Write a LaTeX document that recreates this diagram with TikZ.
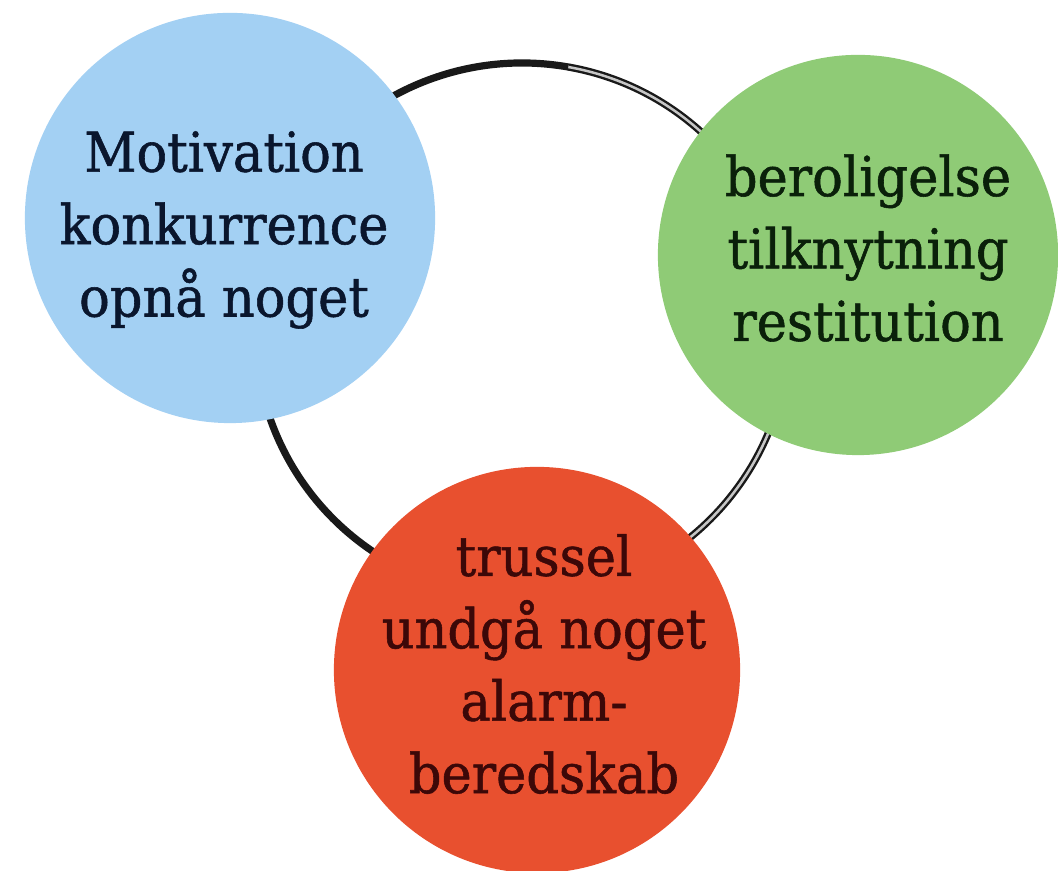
\documentclass[tikz,border=0pt]{standalone}
\usepackage{fontspec}
\setmainfont{DejaVu Serif}[FakeStretch=0.93,FakeBold=1]
\begin{document}
\begin{tikzpicture}[x=0.01cm,y=0.01cm,
  bubble/.style={circle,inner sep=0pt,draw=none},
  label/.style={align=center,inner sep=0pt,font=\fontsize{15.6pt}{20.6pt}\selectfont},
  single/.style={line width=0.072cm,draw=black!90},
  twin/.style={line width=0.024cm,draw=black!90,double=gray!45,double distance=0.025cm}]
\useasboundingbox (0,0) rectangle (1058,871);
\coordinate (ring) at (522,541);
% ring connectors (behind the circles)
\draw[single] ([shift={(240:267)}]ring) arc[start angle=240,end angle=80,radius=267];
\draw[twin] ([shift={(80:267)}]ring) arc[start angle=80,end angle=-55,radius=267];
% circles
\node[bubble,fill={rgb,255:red,163;green,208;blue,243},minimum size=4.10cm] (blue) at (230,653) {};
\node[bubble,fill={rgb,255:red,143;green,203;blue,118},minimum size=4.00cm] (green) at (858,616) {};
\node[bubble,fill={rgb,255:red,232;green,80;blue,47},minimum size=4.06cm] (red) at (537,201) {};
% texts
\node[label,text={rgb,255:red,10;green,22;blue,45}] (blueT) at (224,641) {Motivation\\konkurrence\\opnå noget};
\node[label,text={rgb,255:red,10;green,32;blue,10}] (greenT) at (868,623) {beroligelse\\tilknytning\\restitution};
\node[label,text={rgb,255:red,60;green,8;blue,8}] (redT) at (544,207) {trussel\\undgå noget\\alarm-\\beredskab};
\end{tikzpicture}
\end{document}
